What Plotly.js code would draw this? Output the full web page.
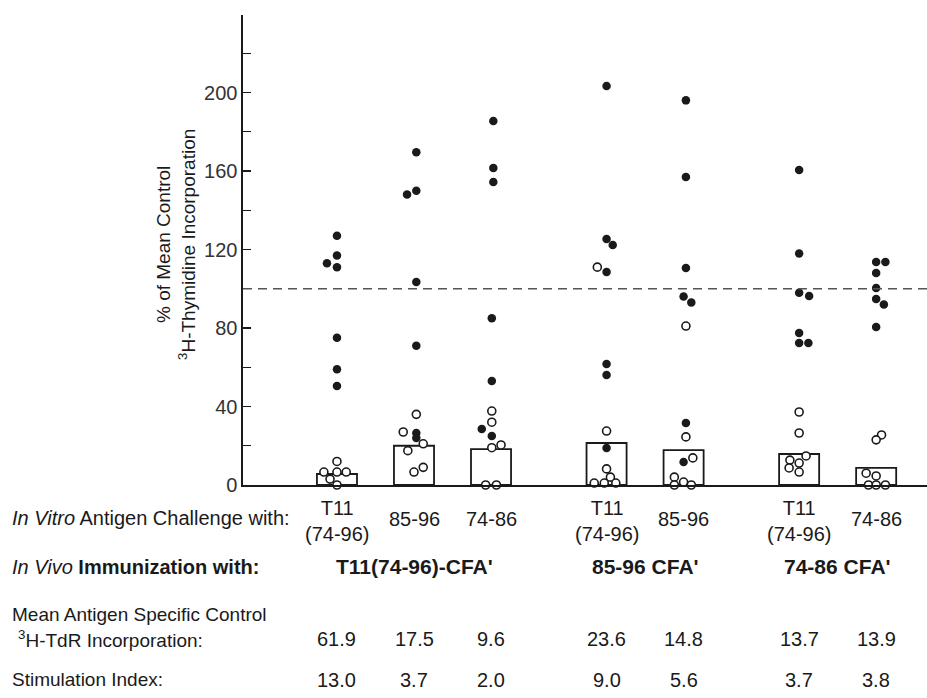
<!DOCTYPE html>
<html>
<head>
<meta charset="utf-8">
<script src="https://cdn.plot.ly/plotly-3.0.1.min.js"></script>
<style>html,body{margin:0;padding:0;background:#fff;}#chart{width:927px;height:698px;}</style>
</head>
<body>
<div id="chart"></div>
<script>
// ---- DATA ----
const challengeLabels = ["T11<br>(74-96)", "85-96", "74-86", "T11<br>(74-96)", "85-96", "T11<br>(74-96)", "74-86"];
const columnPos = [0, 1, 2, 3.5, 4.5, 6, 7];
const immunizationLabels = ["T11(74-96)-CFA'", "85-96 CFA'", "74-86 CFA'"];
const barMeans = [5.6, 20, 18.3, 21.4, 17.8, 15.8, 8.7];

// filled circles (values, % of mean control) per column
const filled1 = [127, 117, 113, 111, 75, 59, 50.5];
const filled2 = [169.6, 150, 148, 103.5, 71, 26.5, 24];
const filled3 = [185.5, 161.5, 154.4, 85, 53, 28.5, 25];
const filled4 = [203.3, 125.4, 122.3, 108.5, 61.7, 56, 18.9];
const filled5 = [196, 157, 110.6, 96, 93, 31.6, 11.7];
const filled6 = [160.5, 118, 98, 96.3, 77.5, 72.4, 72.4];
const filled7 = [113.6, 113.6, 108, 100.4, 94.8, 92, 80.5];
// open circles
const open1 = [12, 6.6, 6.6, 6.6, 3, 0];
const open2 = [36, 27, 21, 17.5, 9, 6.6];
const open3 = [37.7, 32, 20.4, 19, 0, 0];
const open4 = [111, 27.5, 8.2, 4, 1, 1, 1];
const open5 = [81, 24.5, 13.8, 4, 1.5, 0, 0];
const open6 = [37.2, 26.5, 14.8, 12.7, 11.2, 8.7, 6.6];
const open7 = [25.5, 23, 6, 4.6, 0, 0, 0];

// horizontal scatter (jitter) of the dots as seen in the figure
const filledJitter1 = [0, 0, -0.13, 0, 0, 0, 0];
const filledJitter2 = [0.03, 0.03, -0.09, 0.03, 0.03, 0.03, 0.03];
const filledJitter3 = [0.03, 0.03, 0.03, 0.01, 0.01, -0.12, 0.01];
const filledJitter4 = [0, 0, 0.08, 0, 0, 0, 0];
const filledJitter5 = [0.03, 0.03, 0.03, 0, 0.1, 0.03, 0];
const filledJitter6 = [0, 0, 0, 0.13, 0, 0, 0.12];
const filledJitter7 = [0, 0.12, 0, 0, 0, 0.1, 0];
const openJitter1 = [0, -0.17, 0, 0.12, -0.09, 0];
const openJitter2 = [0.03, -0.14, 0.12, -0.08, 0.12, 0];
const openJitter3 = [0.01, 0.01, 0.13, 0.01, -0.07, 0.07];
const openJitter4 = [-0.12, 0, 0, 0.05, -0.16, -0.03, 0.12];
const openJitter5 = [0.03, 0.03, 0.12, -0.12, 0, -0.12, 0.1];
const openJitter6 = [0, 0, 0.09, -0.12, 0, -0.13, 0];
const openJitter7 = [0.07, 0, -0.13, 0, -0.1, 0, 0.12];

const meanControl = ["61.9", "17.5", "9.6", "23.6", "14.8", "13.7", "13.9"];
const stimIndex = ["13.0", "3.7", "2.0", "9.0", "5.6", "3.7", "3.8"];

// ---- BUILD ----
const filledSets = [filled1, filled2, filled3, filled4, filled5, filled6, filled7];
const openSets = [open1, open2, open3, open4, open5, open6, open7];
const fJit = [filledJitter1, filledJitter2, filledJitter3, filledJitter4, filledJitter5, filledJitter6, filledJitter7];
const oJit = [openJitter1, openJitter2, openJitter3, openJitter4, openJitter5, openJitter6, openJitter7];

function flatten(sets, jit) {
  const xs = [], ys = [];
  sets.forEach((vals, i) => vals.forEach((v, j) => { xs.push(columnPos[i] + jit[i][j]); ys.push(v); }));
  return {xs, ys};
}
const F = flatten(filledSets, fJit);
const O = flatten(openSets, oJit);

const FONT = "Liberation Sans, Arial, sans-serif";
const INK = "#1a1a1a";

const traces = [
  {type: "bar", x: columnPos, y: barMeans, width: 0.52,
   marker: {color: "rgba(255,255,255,1)", line: {color: INK, width: 1.8}}, hoverinfo: "skip"},
  {type: "scatter", mode: "markers", x: O.xs, y: O.ys, cliponaxis: false,
   marker: {symbol: "circle", size: 8, color: "#fff", line: {color: INK, width: 1.6}}},
  {type: "scatter", mode: "markers", x: F.xs, y: F.ys, cliponaxis: false,
   marker: {symbol: "circle", size: 8.5, color: INK, line: {width: 0}}}
];

// pixel helpers for placing the text table under the plot
const L = 243, T = 15, PW = 927 - 243, PH = 470;
const py = p => (T + PH - p) / PH;     // pixel y -> paper y
const pxp = p => (p - L) / PW;         // pixel x -> paper x

const ann = [];
const tf = (s, extra) => Object.assign({family: FONT, size: s, color: INK}, extra || {});
function add(o) { ann.push(Object.assign({showarrow: false, yanchor: "middle", xanchor: "center"}, o)); }

// y-axis title
add({xref: "paper", yref: "paper", x: pxp(176), y: py(245), textangle: -90,
  text: "% of Mean Control<br><sup>3</sup>H-Thymidine Incorporation", font: tf(19), align: "center"});
// row 1
add({xref: "paper", yref: "paper", x: pxp(10), y: py(518), xanchor: "left",
  text: "<i>In Vitro</i> Antigen Challenge with:", font: tf(20)});
challengeLabels.forEach((t, i) => add({xref: "x", yref: "paper", x: columnPos[i],
  y: py(t.indexOf("<br>") >= 0 ? 521 : 519), text: t, font: tf(20)}));
// row 2
add({xref: "paper", yref: "paper", x: pxp(10), y: py(567), xanchor: "left",
  text: "<i>In Vivo</i> <b>Immunization with:</b>", font: tf(20)});
const groupCenters = [columnPos[1], (columnPos[3] + columnPos[4]) / 2, (columnPos[5] + columnPos[6]) / 2];
immunizationLabels.forEach((t, i) => add({xref: "x", yref: "paper", x: groupCenters[i], y: py(566),
  text: "<b>" + t + "</b>", font: tf(21)}));
// row 3
add({xref: "paper", yref: "paper", x: pxp(10), y: py(614), xanchor: "left",
  text: "Mean Antigen Specific Control", font: tf(19)});
add({xref: "paper", yref: "paper", x: pxp(16), y: py(639), xanchor: "left",
  text: "<sup>3</sup>H-TdR Incorporation:", font: tf(19)});
meanControl.forEach((t, i) => add({xref: "x", yref: "paper", x: columnPos[i], y: py(639),
  text: t, font: tf(20)}));
// row 4
add({xref: "paper", yref: "paper", x: pxp(10), y: py(680), xanchor: "left",
  text: "Stimulation Index:", font: tf(19)});
stimIndex.forEach((t, i) => add({xref: "x", yref: "paper", x: columnPos[i], y: py(680),
  text: t, font: tf(20)}));

const layout = {
  width: 927, height: 698,
  margin: {l: L, r: 0, t: T, b: 698 - T - PH, pad: 0},
  paper_bgcolor: "#fff", plot_bgcolor: "#fff",
  showlegend: false, bargap: 0,
  font: {family: FONT, color: INK},
  xaxis: {range: [-1.22, 7.66], showline: true, linecolor: INK, linewidth: 1.6, showgrid: false,
    zeroline: false, ticks: "", showticklabels: false, fixedrange: true},
  yaxis: {range: [0, 239.5], showline: true, linecolor: INK, linewidth: 1.6, showgrid: false, zeroline: false,
    tickmode: "linear", tick0: 0, dtick: 40,
    ticks: "inside", ticklen: 8, tickwidth: 1.4, tickcolor: INK,
    minor: {tick0: 0, dtick: 20, ticks: "inside", ticklen: 8, tickwidth: 1.4, tickcolor: INK, showgrid: false},
    tickfont: {family: FONT, size: 20, color: "#333"}, fixedrange: true},
  shapes: [{type: "line", xref: "paper", yref: "y", x0: 0, x1: 1, y0: 100, y1: 100,
    line: {color: "#555", width: 1.6, dash: "9px,6px"}}],
  annotations: ann
};

Plotly.newPlot("chart", traces, layout, {staticPlot: true, displayModeBar: false});
</script>
</body>
</html>
